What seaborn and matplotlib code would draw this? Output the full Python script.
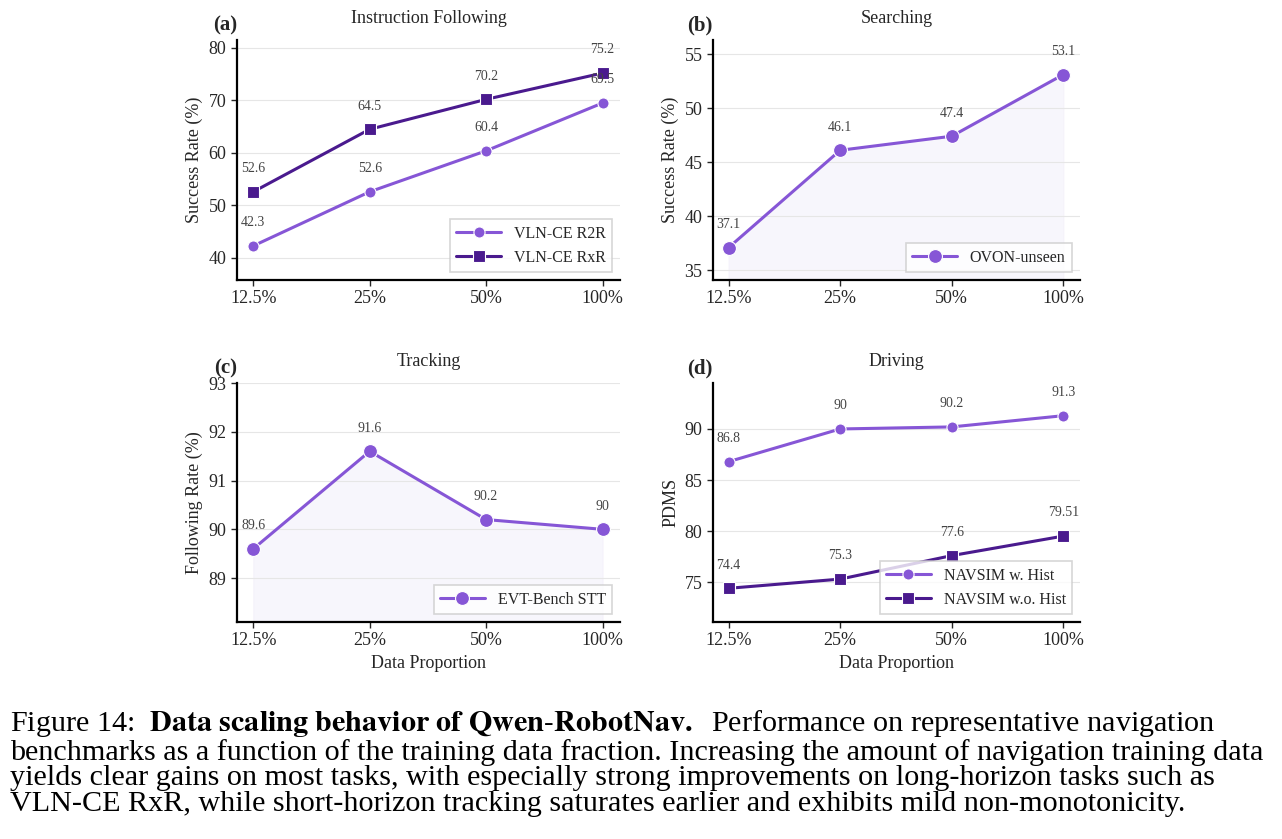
import matplotlib
matplotlib.use("Agg")
import matplotlib.pyplot as plt
import seaborn as sns
import pandas as pd

# Data
proportions = ["12.5%", "25%", "50%", "100%"]
r2r = [42.3, 52.6, 60.4, 69.5]
rxr = [52.6, 64.5, 70.2, 75.2]
ovon = [37.1, 46.1, 47.4, 53.1]
evt = [89.6, 91.6, 90.2, 90.0]
navsim_hist = [86.8, 90.0, 90.2, 91.3]
navsim_nohist = [74.4, 75.3, 77.6, 79.51]

LIGHT = "#8656d6"
DARK = "#4a1a8e"

sns.set_theme(style="white")
plt.rcParams["font.family"] = ["Liberation Serif", "DejaVu Serif"]
plt.rcParams["mathtext.fontset"] = "stix"

fig = plt.figure(figsize=(12.82, 8.39), dpi=100)


def fmt(v):
    return f"{v:g}"


def panel(rect, series, title, letter, ylabel, ylim, yticks, xlabel=None, fill=False):
    ax = fig.add_axes(rect)
    x = list(range(len(proportions)))
    for name, vals, color, marker, ms in series:
        df = pd.DataFrame({"x": x, "y": vals})
        sns.lineplot(data=df, x="x", y="y", ax=ax, color=color, marker=marker,
                     markersize=ms, linewidth=2.2, label=name,
                     markeredgecolor="white", markeredgewidth=0.8)
        if fill:
            ax.fill_between(x, vals, ylim[0], color="#f3f0fa", alpha=0.6, zorder=0)
        for xi, v in zip(x, vals):
            ax.annotate(fmt(v), (xi, v), xytext=(0, 12), textcoords="offset points",
                        ha="center", va="bottom", fontsize=10, color="#444444")
    ax.set_xlim(-0.14, 3.15)
    ax.set_ylim(*ylim)
    ax.set_yticks(yticks)
    ax.set_xticks(x)
    ax.set_xticklabels(proportions)
    ax.tick_params(axis="both", labelsize=13, length=4, width=1, left=True, bottom=True)
    ax.yaxis.grid(True, color="#e6e6e6", linewidth=0.8)
    ax.set_axisbelow(True)
    sns.despine(ax=ax)
    for s in ["left", "bottom"]:
        ax.spines[s].set_color("black")
        ax.spines[s].set_linewidth(1.6)
    ax.set_ylabel(ylabel, fontsize=13)
    ax.set_xlabel(xlabel if xlabel else "", fontsize=13)
    ax.set_title(title, fontsize=13, pad=12)
    ax.text(0.0, 1.06, letter, transform=ax.transAxes, fontsize=15,
            fontweight="bold", ha="right", va="center")
    leg = ax.legend(loc="lower right", fontsize=11.5, frameon=True, fancybox=False,
                    handlelength=2.8, edgecolor="#cccccc")
    leg.get_frame().set_linewidth(1.2)
    return ax


def rect(x0, y0, x1, y1):
    return [x0 / 1282, 1 - y1 / 839, (x1 - x0) / 1282, (y1 - y0) / 839]

panel(rect(237, 40, 620, 280),
      [("VLN-CE R2R", r2r, LIGHT, "o", 8), ("VLN-CE RxR", rxr, DARK, "s", 9)],
      "Instruction Following", "(a)", "Success Rate (%)", (35.8, 81.5), [40, 50, 60, 70, 80])
panel(rect(713, 40, 1080, 280),
      [("OVON-unseen", ovon, LIGHT, "o", 10)],
      "Searching", "(b)", "Success Rate (%)", (34.1, 56.3), [35, 40, 45, 50, 55], fill=True)
panel(rect(237, 383, 620, 622),
      [("EVT-Bench STT", evt, LIGHT, "o", 10)],
      "Tracking", "(c)", "Following Rate (%)", (88.1, 93.0), [89, 90, 91, 92, 93],
      xlabel="Data Proportion", fill=True)
panel(rect(713, 383, 1080, 622),
      [("NAVSIM w. Hist", navsim_hist, LIGHT, "o", 8), ("NAVSIM w.o. Hist", navsim_nohist, DARK, "s", 9)],
      "Driving", "(d)", "PDMS", (71.1, 94.5), [75, 80, 85, 90],
      xlabel="Data Proportion")

caption = ("Figure 14:  $\\mathbf{Data\\ scaling\\ behavior\\ of\\ Qwen\\text{-}RobotNav.}$  Performance on representative navigation\n"
           "benchmarks as a function of the training data fraction. Increasing the amount of navigation training data\n"
           "yields clear gains on most tasks, with especially strong improvements on long-horizon tasks such as\n"
           "VLN-CE RxR, while short-horizon tracking saturates earlier and exhibits mild non-monotonicity.")
fig.text(10 / 1282, 1 - 708 / 839, caption, ha="left", va="top", fontsize=21.7,
         linespacing=0.98, color="black")

fig.savefig("out.png", dpi=100)
